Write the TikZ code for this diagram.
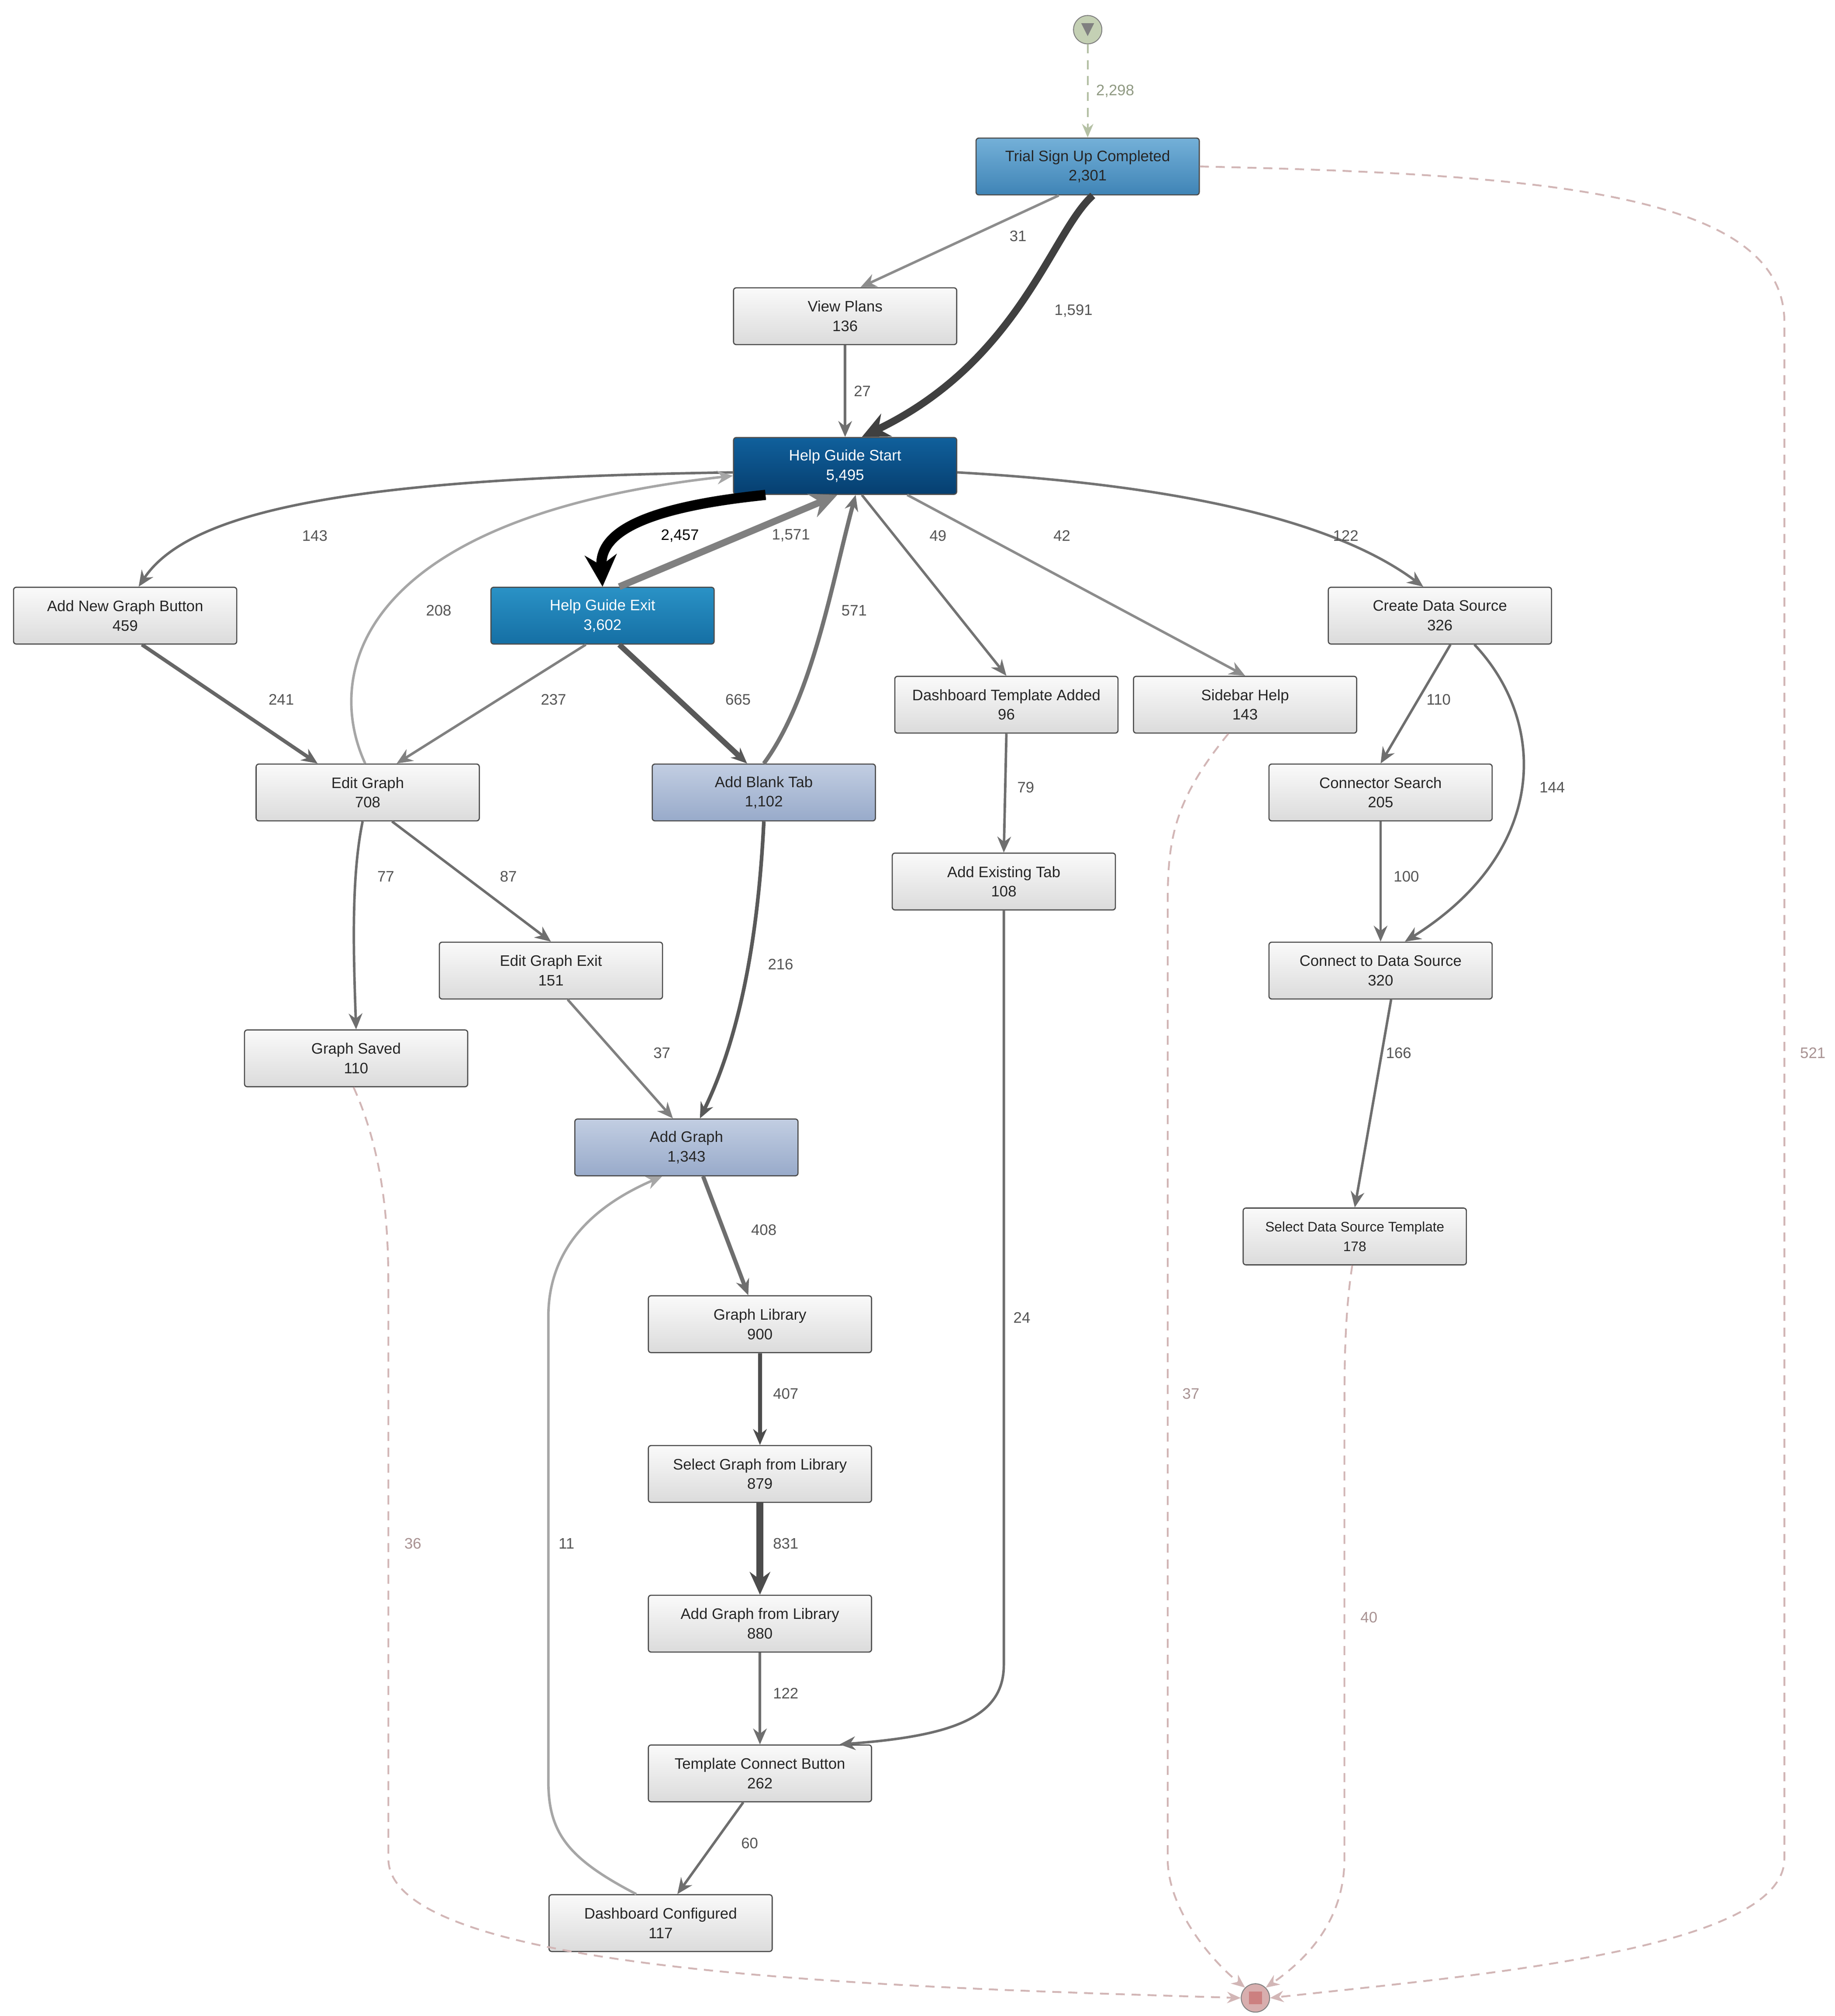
\documentclass[tikz,border=0pt]{standalone}
\usepackage{fontspec}
\setmainfont{Liberation Sans}
\usetikzlibrary{arrows.meta}
\definecolor{ed}{HTML}{6E6E6E}
\definecolor{lab}{HTML}{555555}
\definecolor{dend}{HTML}{D2B6B6}
\definecolor{dstart}{HTML}{B4C0A4}
\definecolor{cst}{HTML}{C4D0B4}
\definecolor{cen}{HTML}{D8AEAE}
\tikzset{
 box/.style={draw=black!70,line width=0.5pt,rounded corners=1.2pt,minimum width=3.46cm,minimum height=0.88cm,align=center,font=\fontsize{6.7}{8.6}\selectfont,top color=white!96!gray,bottom color=black!14!white,inner sep=1pt,text=black!85},
 e/.style={draw=ed,line width=1.1pt,-{Stealth[length=7pt,width=6pt]}},
 l/.style={font=\fontsize{6.7}{8}\selectfont,text=lab},
 de/.style={draw=dend,line width=0.8pt,dash pattern=on 4pt off 3pt,-{Stealth[length=6pt,width=5pt]}},
}
\definecolor{cTrialT}{HTML}{74B0D8}\definecolor{cTrialB}{HTML}{3F84B6}
\definecolor{cHgsT}{HTML}{10609C}\definecolor{cHgsB}{HTML}{063F70}
\definecolor{cHgeT}{HTML}{2A92C6}\definecolor{cHgeB}{HTML}{156FA4}
\definecolor{cLbT}{HTML}{C2CEE2}\definecolor{cLbB}{HTML}{98AACA}
\begin{document}
\begin{tikzpicture}[x=0.02cm,y=-0.02cm]
\useasboundingbox (0,0) rectangle (1422,1562);
% nodes
\node[circle,draw=black!50,minimum size=0.44cm,inner sep=0pt,fill=cst] (st) at (843,23) {};
\fill[black!50] (838,18) -- (848,18) -- (843,28) -- cycle;
\node[box,top color=cTrialT,bottom color=cTrialB] (tr) at (843,129) {Trial Sign Up Completed\\2,301};
\node[box] (vp) at (655,245) {View Plans\\136};
\node[box,top color=cHgsT,bottom color=cHgsB,text=white] (hgs) at (655,361) {Help Guide Start\\5,495};
\node[box] (anb) at (97,477) {Add New Graph Button\\459};
\node[box,top color=cHgeT,bottom color=cHgeB,text=white] (hge) at (467,477) {Help Guide Exit\\3,602};
\node[box] (cds) at (1116,477) {Create Data Source\\326};
\node[box] (dta) at (780,546) {Dashboard Template Added\\96};
\node[box] (sh) at (965,546) {Sidebar Help\\143};
\node[box] (eg) at (285,614) {Edit Graph\\708};
\node[box,top color=cLbT,bottom color=cLbB] (abt) at (592,614) {Add Blank Tab\\1,102};
\node[box] (cs) at (1070,614) {Connector Search\\205};
\node[box] (aet) at (778,683) {Add Existing Tab\\108};
\node[box] (ege) at (427,752) {Edit Graph Exit\\151};
\node[box] (ctd) at (1070,752) {Connect to Data Source\\320};
\node[box] (gs) at (276,820) {Graph Saved\\110};
\node[box,top color=cLbT,bottom color=cLbB] (ag) at (532,889) {Add Graph\\1,343};
\node[box,font=\fontsize{6.1}{8.6}\selectfont] (sdt) at (1050,958) {Select Data Source Template\\178};
\node[box] (gl) at (589,1026) {Graph Library\\900};
\node[box] (sg) at (589,1142) {Select Graph from Library\\879};
\node[box] (agl) at (589,1258) {Add Graph from Library\\880};
\node[box] (tcb) at (589,1374) {Template Connect Button\\262};
\node[box] (dc) at (512,1490) {Dashboard Configured\\117};
\node[circle,draw=black!50,fill=cen,minimum size=0.44cm,inner sep=0pt] (en) at (973,1548) {};
\fill[black!40!red!50] (968,1543) rectangle (978,1553);
% start edge
\draw[draw=dstart,line width=0.8pt,dash pattern=on 4pt off 3pt,-{Stealth[length=6pt,width=5pt]}] (st) -- (tr) node[pos=0.5,right,font=\fontsize{6.7}{8}\selectfont,text=dstart!80!black]{2,298};
% edges
\draw[e,draw=black!45] (tr.225) -- (vp.62);
\node[l] at (789,183) {31};
\draw[e,line width=3.2pt,draw=black!75,-{Stealth[length=12pt,width=11pt]}] (tr.280) .. controls (815,180) and (790,280) .. (hgs.60);
\node[l] at (832,241) {1,591};
\draw[e] (vp) -- (hgs) node[l,pos=0.5,right]{27};
\draw[e] (hgs.west) ++(0,5) .. controls (300,370) and (150,390) .. (anb.65);
\node[l] at (244,415) {143};
\draw[e,line width=4.5pt,draw=black,-{Stealth[length=14pt,width=14pt]}] (hgs.200) .. controls (480,395) and (465,420) .. (hge.north);
\node[l,text=black] at (527,415) {2,457};
\draw[e,line width=3pt,draw=black!50,-{Stealth[length=12pt,width=11pt]}] (hge.60) -- (hgs.255);
\node[l] at (613,415) {1,571};
\draw[e,draw=black!35] (eg.95) .. controls (250,520) and (280,400) .. (hgs.185);
\node[l] at (340,473) {208};
\draw[e,line width=1.8pt,draw=black!55] (abt.north) .. controls (630,540) and (645,450) .. (hgs.290);
\node[l] at (662,473) {571};
\draw[e,draw=black!55] (hgs.300) -- (dta.north);
\node[l] at (727,415) {49};
\draw[e,draw=black!45] (hgs.335) -- (sh.north);
\node[l] at (823,415) {42};
\draw[e,draw=black!55] (hgs.east) ++(0,5) .. controls (900,375) and (1030,400) .. (cds.120);
\node[l] at (1043,415) {122};
\draw[e,line width=1.6pt,draw=black!60] (anb.300) -- (eg.150);
\node[l] at (218,542) {241};
\draw[e,draw=black!50] (hge.240) -- (eg.45);
\node[l] at (429,542) {237};
\draw[e,line width=2.4pt,draw=black!65] (hge.300) -- (abt.120);
\node[l] at (572,542) {665};
\draw[e] (cds.290) -- (cs.north);
\node[l] at (1115,542) {110};
\draw[e] (cds.320) .. controls (1200,560) and (1200,660) .. (ctd.50);
\node[l] at (1203,610) {144};
\draw[e] (dta.south) -- (aet.north);
\node[l] at (795,610) {79};
\draw[e] (eg.260) .. controls (272,680) and (274,740) .. (gs.north);
\node[l] at (299,679) {77};
\draw[e] (eg.310) -- (ege.north);
\node[l] at (394,679) {87};
\draw[e] (cs) -- (ctd);
\node[l] at (1090,679) {100};
\draw[e,line width=1.6pt,draw=black!65] (abt.south) .. controls (588,720) and (575,800) .. (ag.65);
\node[l] at (605,747) {216};
\draw[e,draw=black!50] (ege.300) -- (ag.115);
\node[l] at (513,816) {37};
\draw[e] (ctd.290) -- (sdt.north);
\node[l] at (1084,816) {166};
\draw[e,line width=1.8pt] (ag.300) -- (gl.112);
\node[l] at (592,953) {408};
\draw[e,line width=1.8pt,draw=black!70] (gl) -- (sg);
\node[l] at (609,1080) {407};
\draw[e,line width=3pt,draw=black!70,-{Stealth[length=10pt,width=9pt]}] (sg) -- (agl);
\node[l] at (609,1196) {831};
\draw[e] (agl) -- (tcb);
\node[l] at (609,1312) {122};
\draw[e] (aet.south) -- (778,1290) .. controls (778,1330) and (740,1345) .. (tcb.20);
\node[l] at (792,1021) {24};
\draw[e] (tcb.240) -- (dc.60);
\node[l] at (581,1428) {60};
\draw[e,draw=black!35] (dc.130) .. controls (440,1440) and (425,1420) .. (425,1380) -- (425,1020) .. controls (425,960) and (470,930) .. (ag.230);
\node[l] at (439,1196) {11};
% dashed to end
\draw[de] (gs.265) .. controls (300,900) and (301,960) .. (301,1000) -- (301,1440) .. controls (301,1530) and (700,1540) .. (en.west);
\node[l,text=dend!80!black] at (320,1196) {36};
\draw[de] (sh.240) .. controls (910,620) and (905,650) .. (905,700) -- (905,1440) .. controls (905,1480) and (940,1520) .. (en.135);
\node[l,text=dend!80!black] at (923,1080) {37};
\draw[de] (sdt.265) .. controls (1042,1020) and (1042,1060) .. (1042,1100) -- (1042,1440) .. controls (1042,1490) and (1010,1520) .. (en.45);
\node[l,text=dend!80!black] at (1061,1253) {40};
\draw[de] (tr.east) .. controls (1200,135) and (1383,150) .. (1383,250) -- (1383,1440) .. controls (1383,1510) and (1150,1530) .. (en.east);
\node[l,text=dend!80!black] at (1405,816) {521};
\end{tikzpicture}
\end{document}
